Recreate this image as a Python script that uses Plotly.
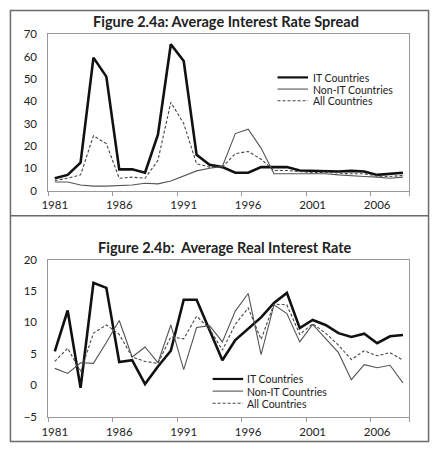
import plotly.graph_objects as go

years = list(range(1981, 2009))

spread_it = [5.5, 7, 12.5, 59.5, 51, 9.5, 9.5, 8, 25, 65.5, 58, 16, 11.5, 10.5,
             8, 8, 10.5, 10.5, 10.5, 9, 8.8, 8.8, 8.5, 8.8, 8.5, 7, 7.5, 8]
spread_nonit = [3.8, 3.8, 2.5, 2, 2, 2.2, 2.5, 3.3, 3, 4.3, 6.5, 8.8, 10, 10.8,
                25.5, 27.5, 19, 7.5, 7.5, 7.5, 7.5, 7.5, 7, 6.5, 6.3, 6, 5.5, 6]
spread_all = [4.5, 5.5, 7, 24.5, 21, 5.5, 6, 5.5, 13.5, 39.5, 30, 12, 10.5, 10.5,
              16.5, 17.5, 14, 9, 9, 8.5, 8, 8.2, 7.8, 7.5, 7.5, 6.5, 6.3, 6.8]

real_it = [5.4, 11.9, -0.4, 16.3, 15.5, 3.7, 4.0, 0.2, 3.0, 5.5, 13.6, 13.6, 8.8, 4.0,
           7.2, 9.0, 10.8, 13.1, 14.7, 9.1, 10.4, 9.6, 8.3, 7.7, 8.2, 6.7, 7.8, 8.0]
real_nonit = [2.7, 1.9, 3.6, 3.5, 6.8, 10.3, 4.5, 6.1, 3.6, 9.6, 2.5, 9.2, 9.5, 6.9,
              11.8, 14.6, 4.9, 12.8, 11.4, 6.9, 9.7, 7.4, 5.2, 0.9, 3.3, 2.8, 3.2, 0.4]
real_all = [3.8, 5.9, 2.2, 8.3, 9.6, 8.1, 4.5, 3.8, 3.5, 7.7, 7.4, 11.0, 9.0, 5.6,
            9.7, 12.3, 7.3, 12.9, 12.8, 8.1, 9.8, 8.3, 6.4, 4.1, 5.5, 4.7, 5.2, 4.0]

top_ticks = [0, 10, 20, 30, 40, 50, 60, 70]
bot_ticks = [-5, 0, 5, 10, 15, 20]
x_ticks = [1981, 1986, 1991, 1996, 2001, 2006]
series_names = ["IT Countries", "Non-IT Countries", "All Countries"]

W, H = 432, 451
FONT = "Lato"

styles = [dict(color="#111111", width=2.6),
          dict(color="#555555", width=1.1),
          dict(color="#444444", width=1.1, dash="3px,2px")]

fig = go.Figure()
for vals, st, nm in zip([spread_it, spread_nonit, spread_all], styles, series_names):
    fig.add_trace(go.Scatter(x=years, y=vals, mode="lines", line=st, name=nm,
                             xaxis="x", yaxis="y", showlegend=False))
for vals, st, nm in zip([real_it, real_nonit, real_all], styles, series_names):
    fig.add_trace(go.Scatter(x=years, y=vals, mode="lines", line=st, name=nm,
                             xaxis="x2", yaxis="y2", showlegend=False))

def px_x(p):
    return p / W

def px_y(p):
    return 1 - p / H

minor_vals = [t - 0.5 for t in x_ticks] + [2008.5]
xcommon = dict(range=[1980.5, 2008.5], tickvals=x_ticks, ticks="",
               showline=True, linecolor="#9a9a9a", linewidth=1, mirror=True,
               showgrid=False, zeroline=False,
               tickfont=dict(family=FONT, size=11.5, color="#222"),
               minor=dict(tickvals=minor_vals, ticks="outside", ticklen=4,
                          tickcolor="#9a9a9a", showgrid=False),
               ticklabelstandoff=4)
ycommon = dict(ticks="", showline=True, linecolor="#9a9a9a", linewidth=1, mirror=True,
               showgrid=False, zeroline=False,
               tickfont=dict(family=FONT, size=11.5, color="#222"),
               ticklabelstandoff=8)

fig.update_layout(
    width=W, height=H,
    margin=dict(l=0, r=0, t=0, b=0),
    paper_bgcolor="white", plot_bgcolor="white",
    showlegend=False,
    xaxis=dict(domain=[px_x(42), px_x(409)], anchor="y", **xcommon),
    yaxis=dict(domain=[px_y(189), px_y(28)], anchor="x", range=[0, 70],
               tickvals=top_ticks, **ycommon),
    xaxis2=dict(domain=[px_x(42), px_x(409)], anchor="y2", **xcommon),
    yaxis2=dict(domain=[px_y(422), px_y(260)], anchor="x2", range=[-5, 20],
                tickvals=bot_ticks, **ycommon),
)

annotations = [
    dict(text="<b>Figure 2.4a: Average Interest Rate Spread</b>", x=px_x(223), y=px_y(15),
         xref="paper", yref="paper", showarrow=False, xanchor="center", yanchor="middle",
         font=dict(family=FONT, size=14.5, color="#222")),
    dict(text="<b>Figure 2.4b:  Average Real Interest Rate</b>", x=px_x(222), y=px_y(248),
         xref="paper", yref="paper", showarrow=False, xanchor="center", yanchor="middle",
         font=dict(family=FONT, size=14.5, color="#222")),
]

shapes = []
# legends
for (lx0, lx1, tx, rows) in [(275, 306, 310, [72.5, 84.5, 96.5]), (209, 240, 243, [383, 395.5, 408])]:
    for nm, st, ry in zip(series_names, styles, rows):
        shapes.append(dict(type="line", xref="paper", yref="paper",
                           x0=px_x(lx0), x1=px_x(lx1), y0=px_y(ry), y1=px_y(ry),
                           line=dict(color=st["color"], width=min(st["width"], 2.2),
                                     dash=st.get("dash", "solid"))))
        annotations.append(dict(text=nm, x=px_x(tx), y=px_y(ry), xref="paper", yref="paper",
                                showarrow=False, xanchor="left", yanchor="middle",
                                height=11, borderpad=0,
                                font=dict(family=FONT, size=10.5, color="#222")))

# outer frame and separator
shapes.append(dict(type="rect", xref="paper", yref="paper",
                   x0=px_x(3.5), x1=px_x(428.5), y0=px_y(447.5), y1=px_y(3.5),
                   line=dict(color="#6a6a6a", width=1.5)))
shapes.append(dict(type="line", xref="paper", yref="paper",
                   x0=px_x(3.5), x1=px_x(428.5), y0=px_y(215), y1=px_y(215),
                   line=dict(color="#6a6a6a", width=1.5)))

fig.update_layout(annotations=annotations, shapes=shapes)
fig.write_html("out.html")
